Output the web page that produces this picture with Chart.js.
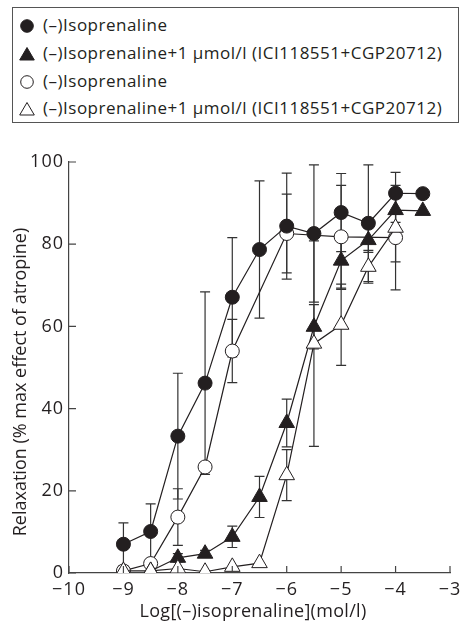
<!DOCTYPE html>
<html>
<head>
<meta charset="utf-8">
<script src="https://cdn.jsdelivr.net/npm/chart.js@4.4.1/dist/chart.umd.min.js"></script>
<style>
  html, body { margin:0; padding:0; background:#fff; }
  body { width:460px; height:629px; position:relative; overflow:hidden; font-family:'Open Sans', Lato, sans-serif; color:#231f20; }
  #legend { position:absolute; left:12px; top:7px; width:447px; height:116px; border:1px solid #555; box-sizing:border-box; }
  #legend .row { position:absolute; left:0; height:20px; line-height:20px; font-size:17px; letter-spacing:0.5px; white-space:nowrap; }
  #legend svg { position:absolute; left:5px; top:2px; }
  #legend span { position:absolute; left:30px; top:-1px; }
  #chart { position:absolute; left:0; top:0; }
</style>
</head>
<body>
<div id="legend"></div>
<canvas id="chart" width="460" height="629"></canvas>
<script>
// series names, as in the legend
const seriesNames = [
  '(–)Isoprenaline',
  '(–)Isoprenaline+1 µmol/l (ICI118551+CGP20712)',
  '(–)Isoprenaline',
  '(–)Isoprenaline+1 µmol/l (ICI118551+CGP20712)'
];

// filled circles
const isoX   = [-9, -8.5, -8, -7.5, -7, -6.5, -6, -5.5, -5, -4.5, -4, -3.5];
const isoY   = [7, 10.1, 33.3, 46.2, 67.1, 78.7, 84.4, 82.6, 87.7, 85.1, 92.4, 92.3];
const isoErr = [5.2, 6.7, 15.3, 22.2, 14.5, 16.7, 12.9, 16.7, 9.5, 14.2, 5.1, 0];

// filled triangles
const blkX   = [-8.5, -8, -7.5, -7, -6.5, -6, -5.5, -5, -4.5, -4, -3.5];
const blkY   = [0.5, 3.7, 4.7, 8.8, 18.5, 36.5, 59.9, 76.0, 81.0, 88.3, 88.1];
const blkErr = [0, 1, 0.8, 2.6, 5, 5.8, 5.4, 7, 3, 3, 0];

// open circles
const iso2X   = [-9, -8.5, -8, -7.5, -7, -6, -5, -4];
const iso2Y   = [0.5, 2.3, 13.6, 25.8, 54, 82.6, 81.8, 81.6];
const iso2Err = [0, 1, 6.9, 0, 7.7, 9.6, 12.5, 12.7];

// open triangles
const blk2X   = [-9, -8.5, -8, -7.5, -7, -6.5, -6, -5.5, -5, -4.5, -4];
const blk2Y   = [0.5, 0.5, 1.1, 0.3, 1.5, 2.4, 23.8, 55.8, 60.4, 74.5, 84];
const blk2Err = [0, 0, 0, 0, 0, 0, 6.2, 25, 9.9, 4, 8.3];

const xTickVals   = [-10, -9, -8, -7, -6, -5, -4, -3];
const xTickLabels = ['−10', '−9', '−8', '−7', '−6', '−5', '−4', '−3'];
const yTickVals   = [0, 20, 40, 60, 80, 100];

const INK = '#231f20';
const FONT = "'Open Sans', Lato, sans-serif";

function pts(xs, ys) { return xs.map((x, i) => ({ x, y: ys[i] })); }

const markers = [
  { style:'circle',   r:7, fill:INK },
  { style:'triangle', r:9, fill:INK },
  { style:'circle',   r:7, fill:'#fff' },
  { style:'triangle', r:9, fill:'#fff' },
];
const errs = [isoErr, blkErr, iso2Err, blk2Err];
const orders = [0, 2, 3, 1];

const datasets = [
  pts(isoX, isoY), pts(blkX, blkY), pts(iso2X, iso2Y), pts(blk2X, blk2Y)
].map((data, i) => ({
  label: seriesNames[i],
  data,
  order: orders[i],
  borderColor: INK,
  borderWidth: 1.2,
  tension: 0,
  fill: false,
  pointStyle: markers[i].style,
  pointRadius: markers[i].r,
  pointBackgroundColor: markers[i].fill,
  pointBorderColor: INK,
  pointBorderWidth: 1,
  errors: errs[i]
}));

// legend, built from the names and marker styles
const legend = document.getElementById('legend');
const rowTops = [8, 36, 64, 91];
seriesNames.forEach((name, i) => {
  const m = markers[i];
  const shape = m.style === 'circle'
    ? `<circle cx="9" cy="8" r="6.3" fill="${m.fill}" stroke="${INK}" stroke-width="1"/>`
    : `<polygon points="9,1.5 16.3,14 1.7,14" fill="${m.fill}" stroke="${INK}" stroke-width="1"/>`;
  const row = document.createElement('div');
  row.className = 'row';
  row.style.top = rowTops[i] + 'px';
  row.innerHTML = `<svg width="18" height="16">${shape}</svg><span></span>`;
  row.querySelector('span').textContent = name;
  legend.appendChild(row);
});

// wider letter spacing for the tick labels, closer to the reference face
const spacing = {
  id: 'spacing',
  beforeInit(chart) { chart.ctx.letterSpacing = '1px'; },
  beforeDraw(chart) { chart.ctx.letterSpacing = '1px'; }
};

const errorBars = {
  id: 'errorBars',
  beforeDatasetsDraw(chart) {
    const { ctx, scales: { x, y } } = chart;
    ctx.save();
    ctx.strokeStyle = '#333';
    ctx.lineWidth = 1.2;
    chart.data.datasets.forEach(ds => {
      ds.data.forEach((p, i) => {
        const e = ds.errors[i];
        if (!e) return;
        const px = x.getPixelForValue(p.x);
        const top = y.getPixelForValue(Math.min(p.y + e, 100));
        const bot = y.getPixelForValue(Math.max(p.y - e, 0));
        ctx.beginPath();
        ctx.moveTo(px, top); ctx.lineTo(px, bot);
        ctx.moveTo(px - 5, top); ctx.lineTo(px + 5, top);
        if (p.y - e > 0) { ctx.moveTo(px - 5, bot); ctx.lineTo(px + 5, bot); }
        ctx.stroke();
      });
    });
    ctx.restore();
  }
};

const innerTicks = {
  id: 'innerTicks',
  afterDraw(chart) {
    const { ctx, chartArea: a, scales: { x, y } } = chart;
    ctx.save();
    ctx.strokeStyle = '#444';
    ctx.lineWidth = 1.2;
    ctx.beginPath();
    xTickVals.forEach(v => { const px = x.getPixelForValue(v); ctx.moveTo(px, a.bottom); ctx.lineTo(px, a.bottom - 7); });
    yTickVals.forEach(v => { const py = y.getPixelForValue(v); ctx.moveTo(a.left, py); ctx.lineTo(a.left + 7, py); });
    ctx.stroke();
    // axis titles
    ctx.fillStyle = INK;
    ctx.font = '18px ' + FONT;
    ctx.textAlign = 'center';
    ctx.textBaseline = 'middle';
    ctx.letterSpacing = '0.3px';
    ctx.fillText('Log[(–)isoprenaline](mol/l)', 253, 612);
    ctx.letterSpacing = '0px';
    ctx.translate(21, 382);
    ctx.rotate(-Math.PI / 2);
    ctx.fillText('Relaxation (% max effect of atropine)', 0, 0);
    ctx.restore();
  }
};

new Chart(document.getElementById('chart'), {
  type: 'line',
  data: { datasets },
  options: {
    responsive: false, animation: false, devicePixelRatio: 1,
    layout: { padding: { top: 162, right: 3, left: 0, bottom: 0 } },
    plugins: { legend: { display: false }, tooltip: { enabled: false } },
    scales: {
      x: {
        type: 'linear', min: -10, max: -3,
        afterBuildTicks: s => { s.ticks = xTickVals.map(v => ({ value: v })); },
        afterFit: s => { s.height = 56; s.paddingLeft = 0; s.paddingRight = 0; },
        ticks: {
          autoSkip: false, maxRotation: 0, padding: 6, color: INK,
          font: { family: FONT, size: 18 },
          callback: v => xTickLabels[xTickVals.indexOf(v)]
        },
        grid: { drawOnChartArea: false, drawTicks: false },
        border: { color: '#444', width: 1.2 }
      },
      y: {
        min: 0, max: 100,
        afterBuildTicks: s => { s.ticks = yTickVals.map(v => ({ value: v })); },
        afterFit: s => { s.width = 69; },
        ticks: { padding: 5, color: INK, font: { family: FONT, size: 18 } },
        grid: { drawOnChartArea: false, drawTicks: false },
        border: { color: '#444', width: 1.2 }
      }
    }
  },
  plugins: [spacing, errorBars, innerTicks]
});
</script>
</body>
</html>
